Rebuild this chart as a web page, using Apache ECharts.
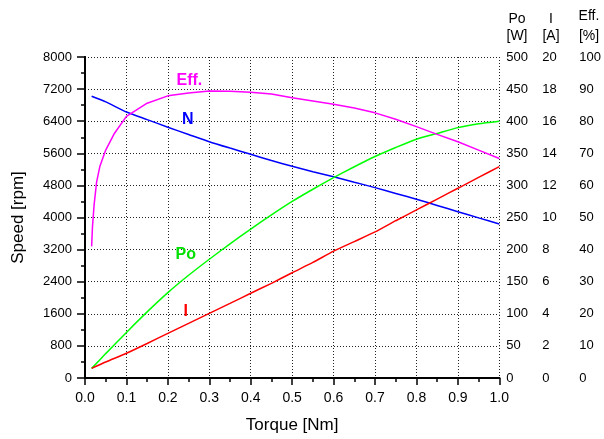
<!DOCTYPE html>
<html>
<head>
<meta charset="utf-8">
<script src="https://cdn.jsdelivr.net/npm/echarts@6/dist/echarts.min.js"></script>
<style>html,body{margin:0;padding:0;background:#fff;}#c{width:604px;height:439px;}</style>
</head>
<body>
<div id="c"></div>
<script>
// Torque [Nm] vs values
var speedN = [[0.016,7020],[0.05,6880],[0.1,6630],[0.15,6440],[0.2,6250],[0.25,6070],[0.3,5890],[0.35,5730],[0.4,5575],[0.45,5420],[0.5,5275],[0.55,5140],[0.6,5017],[0.65,4880],[0.7,4745],[0.75,4600],[0.8,4455],[0.85,4300],[0.9,4145],[0.95,3990],[1.0,3838]];
var effPct = [[0.016,41],[0.018,47],[0.022,54],[0.028,61],[0.036,66],[0.05,71],[0.07,76],[0.1,81.5],[0.15,85.6],[0.2,87.9],[0.25,88.8],[0.3,89.4],[0.35,89.3],[0.4,89.0],[0.45,88.5],[0.5,87.3],[0.55,86.3],[0.6,85.3],[0.65,84.1],[0.7,82.6],[0.75,80.6],[0.8,78.3],[0.85,75.9],[0.9,73.6],[0.95,71],[1.0,68.4]];
var powerW = [[0.016,15],[0.05,38],[0.1,71],[0.15,103],[0.2,133],[0.25,160],[0.3,185],[0.35,209],[0.4,232],[0.45,254],[0.5,275],[0.55,294],[0.6,312],[0.65,329],[0.7,345],[0.75,359],[0.8,372],[0.85,381],[0.9,390],[0.95,396],[1.0,400]];
var currentA = [[0.016,0.6],[0.05,1.0],[0.1,1.54],[0.15,2.15],[0.2,2.78],[0.25,3.4],[0.3,4.03],[0.35,4.65],[0.4,5.28],[0.45,5.9],[0.5,6.56],[0.55,7.2],[0.6,7.9],[0.65,8.5],[0.7,9.1],[0.75,9.8],[0.8,10.47],[0.85,11.15],[0.9,11.82],[0.95,12.5],[1.0,13.17]];
// curve label anchors (data coordinates)
var labelN = [0.248, 6430];
var labelEff = [0.252, 92.8];
var labelPo = [0.243, 191.6];
var labelI = [0.243, 4.11];
var headers = ['Po\n[W]', 'I\n[A]', 'Eff.\n[%]'];

var FONT = 'Liberation Sans';
var chart = echarts.init(document.getElementById('c'), null, {renderer:'canvas'});

function rightAxis(min, max, interval, offset, showLine) {
  return {
    type:'value', position:'right', min:min, max:max, interval:interval, offset:offset,
    axisLine:{show:showLine, lineStyle:{color:'#000', width:2}},
    axisTick:{show:showLine, inside:true, length:6, lineStyle:{color:'#000', width:1.5}},
    minorTick:{show:showLine, splitNumber:2, length:4, lineStyle:{color:'#000', width:1.5}},
    axisLabel:{margin:7, color:'#000', fontFamily:FONT, fontSize:13, align:'left'},
    splitLine:{show:false}
  };
}
function mk(coord, text, color) {
  return {
    symbol:'rect', symbolSize:1, silent:true,
    itemStyle:{color:'rgba(0,0,0,0)'},
    label:{show:true, position:'inside', formatter:text, color:color, fontFamily:FONT, fontSize:16, fontWeight:'bold'},
    data:[{coord:coord}]
  };
}
function header(x, y, text, lh) {
  return {type:'text', x:x, y:y, silent:true,
    style:{text:text, align:'center', verticalAlign:'top', fill:'#000', font:'14px "Liberation Sans"', lineHeight:lh}};
}

var option = {
  animation:false,
  backgroundColor:'#fff',
  grid:{left:85, right:103, top:57, bottom:61},
  xAxis:[{
    type:'value', min:0, max:1, interval:0.1,
    name:'Torque [Nm]', nameLocation:'middle', nameGap:39,
    nameTextStyle:{color:'#000', fontFamily:FONT, fontSize:17},
    axisLine:{lineStyle:{color:'#000', width:2}},
    axisTick:{length:7, lineStyle:{color:'#000', width:1.5}},
    minorTick:{show:true, splitNumber:2, length:4, lineStyle:{color:'#000', width:1.5}},
    axisLabel:{margin:13, color:'#000', fontFamily:FONT, fontSize:14, formatter:function(v){return v.toFixed(1);}},
    splitLine:{show:true, lineStyle:{color:'#222', width:1, type:[1,2]}}
  },{
    type:'value', position:'top', min:0, max:1,
    axisLine:{show:true, lineStyle:{color:'#000', width:2}},
    axisTick:{show:false}, axisLabel:{show:false}, splitLine:{show:false}
  }],
  yAxis:[{
    type:'value', position:'left', min:0, max:8000, interval:800,
    name:'Speed [rpm]', nameLocation:'middle', nameGap:58, nameRotate:90,
    nameTextStyle:{color:'#000', fontFamily:FONT, fontSize:17},
    axisLine:{show:true, lineStyle:{color:'#000', width:2}},
    axisTick:{length:8, lineStyle:{color:'#000', width:1.5}},
    minorTick:{show:true, splitNumber:2, length:4, lineStyle:{color:'#000', width:1.5}},
    axisLabel:{margin:13, color:'#000', fontFamily:FONT, fontSize:13, formatter:function(v){return String(v);}},
    splitLine:{show:true, lineStyle:{color:'#222', width:1, type:[1,2]}}
  },
    rightAxis(0, 500, 50, 0, true),
    rightAxis(0, 20, 2, 36, false),
    rightAxis(0, 100, 10, 73, false)
  ],
  graphic:[
    header(517, 11, headers[0], 17),
    header(551, 11, headers[1], 17),
    header(589, 6, headers[2], 20)
  ],
  series:[
    {name:'N', type:'line', xAxisIndex:0, yAxisIndex:0, data:speedN, showSymbol:false, smooth:0.2,
      lineStyle:{color:'#0000ff', width:1.5}, markPoint:mk(labelN,'N','#0000ff')},
    {name:'Po', type:'line', xAxisIndex:0, yAxisIndex:1, data:powerW, showSymbol:false, smooth:0.2,
      lineStyle:{color:'#00ff00', width:1.5}, markPoint:mk(labelPo,'Po','#00e000')},
    {name:'I', type:'line', xAxisIndex:0, yAxisIndex:2, data:currentA, showSymbol:false, smooth:0.2,
      lineStyle:{color:'#ff0000', width:1.5}, markPoint:mk(labelI,'I','#ff0000')},
    {name:'Eff', type:'line', xAxisIndex:0, yAxisIndex:3, data:effPct, showSymbol:false, smooth:false,
      lineStyle:{color:'#ff00ff', width:1.5}, markPoint:mk(labelEff,'Eff.','#ff00ff')}
  ]
};
chart.setOption(option);
</script>
</body>
</html>
